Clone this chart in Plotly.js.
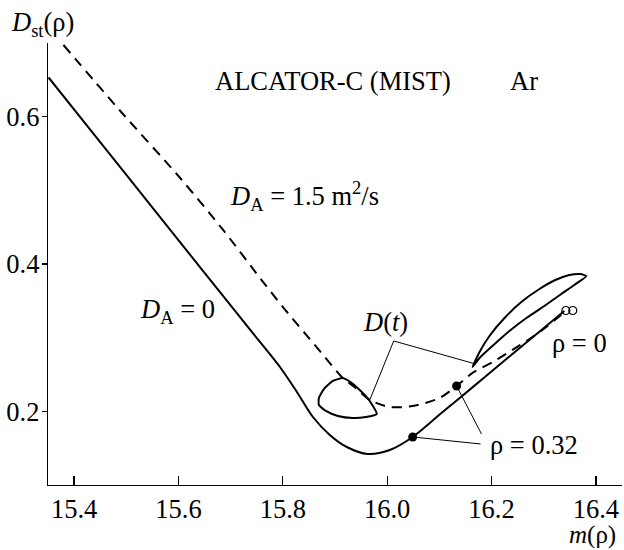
<!DOCTYPE html>
<html>
<head>
<meta charset="utf-8">
<script src="https://cdn.plot.ly/plotly-3.0.1.min.js"></script>
<style>html,body{margin:0;padding:0;background:#fff;}#chart{width:624px;height:550px;}</style>
</head>
<body>
<div id="chart"></div>
<script>
// D_A = 0 (solid)
const solidX = [15.351, 15.4504, 15.546, 15.6416, 15.7372, 15.7945, 15.827, 15.8577, 15.890, 15.9226, 15.9628, 16.0049, 16.0489, 16.1005, 16.135, 16.1884, 16.240, 16.2916, 16.3394];
const solidY = [0.6532, 0.5651, 0.4802, 0.3955, 0.3108, 0.2602, 0.2263, 0.1923, 0.1679, 0.1516, 0.1421, 0.1475, 0.1652, 0.1956, 0.2158, 0.2473, 0.2778, 0.3081, 0.3362];
// D_A = 1.5 m2/s (dashed)
const dashX = [15.3796, 15.4886, 15.6033, 15.6856, 15.7563, 15.8002, 15.842, 15.8805, 15.915, 15.9398, 15.9666, 16.0049, 16.0489, 16.1005, 16.133, 16.1635, 16.2056, 16.240, 16.2725, 16.305, 16.3394];
const dashY = [0.6973, 0.6077, 0.5167, 0.4462, 0.3810, 0.3416, 0.3063, 0.2738, 0.2453, 0.2317, 0.2154, 0.2059, 0.2073, 0.2181, 0.2344, 0.2521, 0.2683, 0.2833, 0.2982, 0.3145, 0.3349];
// D(t) loops
const loopSmallX = [15.915, 15.8959, 15.8787, 15.8691, 15.8691, 15.8825, 15.9055, 15.9341, 15.959, 15.98, 15.9666, 15.9494, 15.9322, 15.915];
const loopSmallY = [0.2453, 0.2412, 0.2303, 0.2181, 0.2086, 0.2005, 0.1937, 0.1910, 0.1923, 0.1964, 0.2141, 0.2276, 0.2385, 0.2453];
const loopBigX = [16.1635, 16.177, 16.196, 16.2248, 16.257, 16.2917, 16.3222, 16.349, 16.370, 16.3815, 16.3585, 16.3337, 16.3012, 16.2668, 16.2343, 16.2017, 16.177, 16.1635];
const loopBigY = [0.2602, 0.2806, 0.3023, 0.3267, 0.3484, 0.3661, 0.3783, 0.3851, 0.3864, 0.3837, 0.3715, 0.3593, 0.3430, 0.3267, 0.3091, 0.2887, 0.2724, 0.2602];
// rho = 0.32 points and rho = 0 points
const rho032X = [16.0489, 16.133];
const rho032Y = [0.1652, 0.2344];
const rho0X = [16.3424, 16.3557];
const rho0Y = [0.3369, 0.3369];
// leader lines
const leadDtX = [15.9666, 16.0125, 16.1693];
const leadDtY = [0.2154, 0.2955, 0.2643];
const leadR1X = [16.0489, 16.1789];
const leadR1Y = [0.1652, 0.1557];
const leadR2X = [16.133, 16.1807];
const leadR2Y = [0.2344, 0.1693];
const xTicks = [15.4, 15.6, 15.8, 16.0, 16.2, 16.4];
const yTicks = [0.2, 0.4, 0.6];

const FONT = '"Liberation Serif", "Times New Roman", Times, serif';
const black = '#000';

const traces = [
  {x: dashX, y: dashY, mode: 'lines', line: {color: black, width: 2, dash: '10px,7px', shape: 'spline', smoothing: 0.8}},
  {x: solidX, y: solidY, mode: 'lines', line: {color: black, width: 2, shape: 'spline', smoothing: 0.8}},
  {x: loopSmallX, y: loopSmallY, mode: 'lines', line: {color: black, width: 2, shape: 'spline', smoothing: 0.5}},
  {x: loopBigX, y: loopBigY, mode: 'lines', line: {color: black, width: 2, shape: 'spline', smoothing: 0.5}},
  {x: leadDtX, y: leadDtY, mode: 'lines', line: {color: black, width: 1}},
  {x: leadR1X, y: leadR1Y, mode: 'lines', line: {color: black, width: 1}},
  {x: leadR2X, y: leadR2Y, mode: 'lines', line: {color: black, width: 1}},
  {x: rho032X, y: rho032Y, mode: 'markers', marker: {color: black, size: 9}},
  {x: rho0X, y: rho0Y, mode: 'markers', marker: {symbol: 'circle-open', color: black, size: 8, line: {width: 1.2}}}
];

const txt = (text, x, y, xanchor, extra) => Object.assign({text, x, y, xref: 'x', yref: 'y', xanchor, yanchor: 'middle', showarrow: false, font: {family: FONT, size: 26.5, color: black}}, extra || {});

const layout = {
  width: 624, height: 550,
  margin: {l: 47.5, r: 1.5, t: 43, b: 65},
  paper_bgcolor: '#fff', plot_bgcolor: '#fff',
  showlegend: false,
  font: {family: FONT, size: 26.5, color: black},
  xaxis: {range: [15.35, 16.45], tickvals: xTicks, tickformat: '.1f', ticks: 'inside', ticklen: 9, tickwidth: 1.3, tickcolor: black,
          showline: true, linewidth: 1.3, linecolor: black, showgrid: false, zeroline: false, tickfont: {family: FONT, size: 26.5, color: black}},
  yaxis: {range: [0.1, 0.7], tickvals: yTicks, tickformat: '.1f', ticks: 'outside', ticklen: 5, tickwidth: 1.3, tickcolor: black, ticklabelstandoff: -3,
          showline: true, linewidth: 1.3, linecolor: black, showgrid: false, zeroline: false, tickfont: {family: FONT, size: 26.5, color: black}},
  annotations: [
    txt('ALCATOR-C (MIST)', 15.666, 0.6484, 'left'),
    txt('Ar', 16.2323, 0.6484, 'left'),
    txt('<i>D</i><sub>A</sub> = 1.5 m<sup>2</sup>/s', 15.695, 0.4923, 'left'),
    txt('<i>D</i><sub>A</sub> = 0', 15.522, 0.3362, 'left'),
    txt('<i>D</i>(<i>t</i>)', 15.950, 0.3210, 'left'),
    txt('ρ = 0', 16.3126, 0.2928, 'left'),
    txt('ρ = 0.32', 16.194, 0.1543, 'left'),
    txt('<i>D</i><sub>st</sub>(ρ)', -0.0685, 1.043, 'left', {xref: 'paper', yref: 'paper'}),
    txt('<i>m</i>(ρ)', 0.992, -0.112, 'right', {xref: 'paper', yref: 'paper', borderpad: 0, font: {family: FONT, size: 25, color: black}})
  ]
};

Plotly.newPlot('chart', traces, layout, {staticPlot: true, displayModeBar: false});
</script>
</body>
</html>
